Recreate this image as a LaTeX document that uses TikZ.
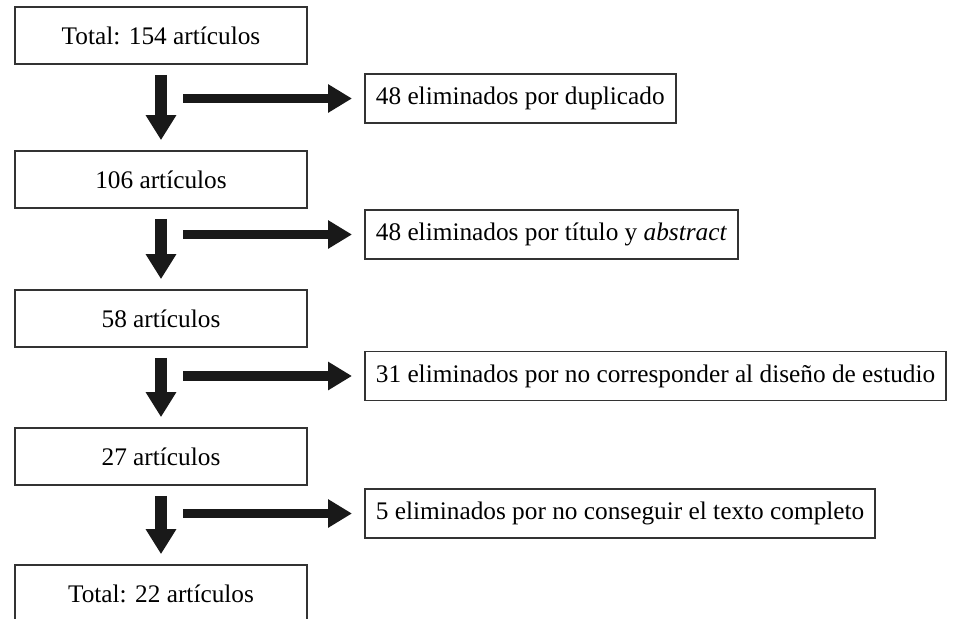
\documentclass[tikz,border=0pt]{standalone}
\usepackage{fontspec}
\setmainfont{Liberation Serif}
\usetikzlibrary{arrows.meta}

\begin{document}
\begin{tikzpicture}[
    stage/.style={rectangle, draw=black!80, line width=1pt, minimum width=5.84cm, minimum height=1.14cm, font=\fontsize{14.4}{16}\selectfont},
    removed/.style={rectangle, draw=black!80, line width=1pt, anchor=west, minimum height=0.98cm, inner xsep=0.22cm, font=\fontsize{14.4}{16}\selectfont},
    downarrow/.style={-{Triangle[width=0.58cm, length=0.5cm]}, draw=black!90, line width=0.23cm, shorten <=0.2cm, shorten >=0.2cm},
    sidearrow/.style={-{Triangle[width=0.54cm, length=0.48cm]}, draw=black!90, line width=0.19cm, shorten >=0.24cm}
]
    \clip (0,0) rectangle (19.1,-12.38);

    % Stages
    \node[stage] (total) at (3.22, -0.71) {Total: 154 artículos};
    \node[stage] (s106) at (3.22, -3.59) {106 artículos};
    \node[stage] (s58) at (3.22, -6.37) {58 artículos};
    \node[stage] (s27) at (3.22, -9.13) {27 artículos};
    \node[stage] (final) at (3.22, -11.87) {Total: 22 artículos};

    % Removed
    \node[removed] (dup) at (7.28, -1.97) {48 eliminados por duplicado};
    \node[removed] (title) at (7.28, -4.69) {48 eliminados por título y \textit{abstract}};
    \node[removed] (design) at (7.28, -7.52) {31 eliminados por no corresponder al diseño de estudio};
    \node[removed] (full) at (7.28, -10.27) {5 eliminados por no conseguir el texto completo};

    % Arrows down
    \draw[downarrow] (total.south) -- (s106.north);
    \draw[downarrow] (s106.south) -- (s58.north);
    \draw[downarrow] (s58.south) -- (s27.north);
    \draw[downarrow] (s27.south) -- (final.north);

    % Arrows right
    \coordinate (b1) at ([xshift=-3.62cm]dup.west);
    \coordinate (b2) at ([xshift=-3.62cm]title.west);
    \coordinate (b3) at ([xshift=-3.62cm]design.west);
    \coordinate (b4) at ([xshift=-3.62cm]full.west);
    \draw[sidearrow] (b1) -- (dup.west);
    \draw[sidearrow] (b2) -- (title.west);
    \draw[sidearrow] (b3) -- (design.west);
    \draw[sidearrow] (b4) -- (full.west);
\end{tikzpicture}
\end{document}
